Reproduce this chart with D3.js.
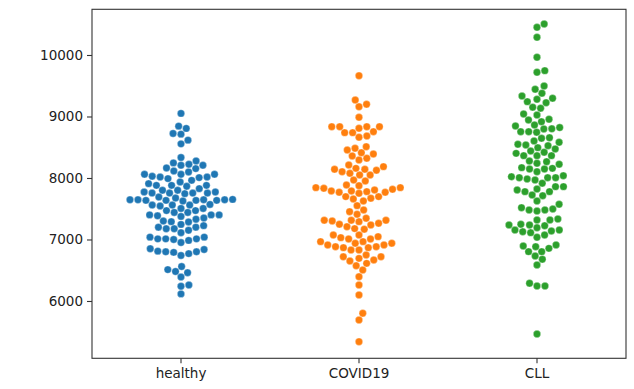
<!DOCTYPE html>
<html><head><meta charset="utf-8">
<script src="https://cdn.jsdelivr.net/npm/d3@7"></script>
<style>body{margin:0;background:#fff}svg{display:block}text{font-family:"DejaVu Sans",sans-serif}</style>
</head><body><svg id="c" width="634" height="389"></svg>
<script>
const categories = ["healthy", "COVID19", "CLL"];
const colors = ["#1f77b4", "#ff7f0e", "#2ca02c"];
const yTicks = [6000, 7000, 8000, 9000, 10000];

const healthy = [9050, 8843, 8806, 8724, 8713, 8615, 8555, 8333,
8277, 8245, 8223, 8207, 8207, 8163, 8153,
8114, 8098, 8060, 8060, 8060, 8028, 8016, 8016, 8006, 7990,
7962, 7935, 7908, 7880, 7880, 7880, 7865,
7827, 7800, 7800, 7772, 7772, 7755, 7755, 7755, 7755, 7745,
7690, 7674, 7652, 7646, 7646, 7646, 7646, 7636, 7636, 7636, 7636, 7625,
7570, 7560, 7560, 7560, 7545, 7505, 7505, 7470,
7470, 7440, 7440, 7400, 7400, 7400, 7385, 7375, 7350, 7330,
7300, 7290, 7285,
7245, 7225, 7200, 7200, 7175, 7175, 7150, 7110,
7038, 7038, 7010, 7010, 7010, 7000, 6985, 6950,
6850, 6837, 6810, 6800, 6800, 6790, 6770, 6740,
6560, 6510, 6480, 6460, 6390,
6260, 6240, 6115];

const covid = [9663, 9268, 9198, 9159, 8987,
8834, 8834, 8834, 8834, 8808, 8753, 8737, 8737, 8683, 8662,
8509, 8483, 8455, 8411, 8390, 8358, 8320, 8293,
8211, 8184, 8157, 8141, 8141, 8125, 8102, 8076, 8049, 8049,
7967, 7951, 7886, 7875, 7843,
7843, 7832, 7816, 7805, 7789, 7789, 7778, 7767, 7767, 7751,
7697, 7697, 7670, 7659, 7626,
7550, 7480, 7452, 7410,
7345, 7312, 7312, 7312, 7301, 7290, 7263, 7247, 7236, 7208, 7177, 7166,
7073, 7073, 7046, 7030, 7008, 7008, 6965, 6965, 6938, 6938, 6911, 6911, 6883, 6883, 6867, 6867, 6829, 6829,
6748, 6720, 6720, 6693, 6667, 6650, 6612, 6574,
6504, 6395, 6260, 6098, 5800, 5691, 5338];

const cll = [10504, 10450, 10288, 9963, 9745, 9719,
9496, 9442, 9377, 9333, 9296, 9280, 9241, 9224, 9150, 9134, 9041, 9024, 8955, 8943, 8915, 8862, 8846,
8820, 8800, 8797, 8753, 8753, 8743,
8655, 8645, 8602, 8580, 8548, 8537, 8525, 8493, 8472,
8439, 8418, 8401, 8363, 8363, 8363, 8276, 8265,
8239, 8223, 8168, 8157, 8146, 8146, 8102,
8037, 8021, 8005, 8005, 8005, 7984, 7967, 7914,
7859, 7859, 7821, 7805, 7778, 7778, 7724, 7712, 7626,
7572, 7517, 7496, 7480, 7480, 7463, 7333, 7317, 7317,
7247, 7236, 7236, 7224, 7192, 7154, 7154, 7138,
7127, 7111, 7073, 7036,
6911, 6894, 6883, 6856, 6802, 6802, 6732, 6678, 6586,
6288, 6244, 6244, 5463];

const groups = [healthy, covid, cll];

const L = 92, R = 626, T = 9.3, B = 358.3;
const svg = d3.select("#c");
const x = d3.scaleBand().domain(categories).range([L, R]).padding(0);
const y = d3.scaleLinear().domain([5068, 10743]).range([B, T]);

const D = 7.6; // swarm spacing (px)
function beeswarm(cx, ys) {
  const pts = ys.slice().sort((a, b) => b - a); // pixel y descending = value ascending
  const swarm = [];
  for (const yi of pts) {
    const neighbors = [];
    for (let k = swarm.length - 1; k >= 0; k--) {
      if (Math.abs(yi - swarm[k][1]) < D) neighbors.push(swarm[k]); else break;
    }
    neighbors.reverse();
    const cands = [[cx, yi]];
    for (const [xj, yj] of neighbors) {
      const dy = yi - yj;
      const dx = Math.sqrt(Math.max(D * D - dy * dy, 0)) * 1.05;
      cands.push([xj + dx, yi], [xj - dx, yi]);
    }
    const order = cands.map((c, i) => [Math.abs(c[0] - cx), i]).sort((a, b) => a[0] - b[0] || a[1] - b[1]);
    let placed = null;
    for (const [, i] of order) {
      const c = cands[i];
      if (neighbors.every(n => Math.hypot(n[0] - c[0], n[1] - c[1]) >= D - 1e-6)) { placed = c; break; }
    }
    swarm.push(placed || cands[0]);
  }
  return swarm;
}

groups.forEach((vals, gi) => {
  const cx = x(categories[gi]) + x.bandwidth() / 2;
  const pts = beeswarm(cx, vals.map(v => y(v)));
  svg.append("g").selectAll("circle").data(pts).join("circle")
    .attr("cx", d => d[0]).attr("cy", d => d[1]).attr("r", 3.7)
    .attr("fill", colors[gi]).attr("stroke", "#fff").attr("stroke-width", 0.3);
});

// frame
svg.append("rect").attr("x", L).attr("y", T).attr("width", R - L).attr("height", B - T)
  .attr("fill", "none").attr("stroke", "#333").attr("stroke-width", 1.1);

const yAxis = svg.append("g").attr("transform", `translate(${L},0)`)
  .call(d3.axisLeft(y).tickValues(yTicks).tickSize(5).tickPadding(4).tickFormat(d3.format("d")));
const xAxis = svg.append("g").attr("transform", `translate(0,${B})`)
  .call(d3.axisBottom(x).tickSize(5).tickPadding(5));
[yAxis, xAxis].forEach(a => {
  a.select(".domain").remove();
  a.selectAll(".tick line").attr("stroke", "#333").attr("stroke-width", 1.1);
  a.selectAll(".tick text").attr("fill", "#222").style("font-size", "13.5px").style("font-family", "'DejaVu Sans', sans-serif");
});
</script></body></html>
